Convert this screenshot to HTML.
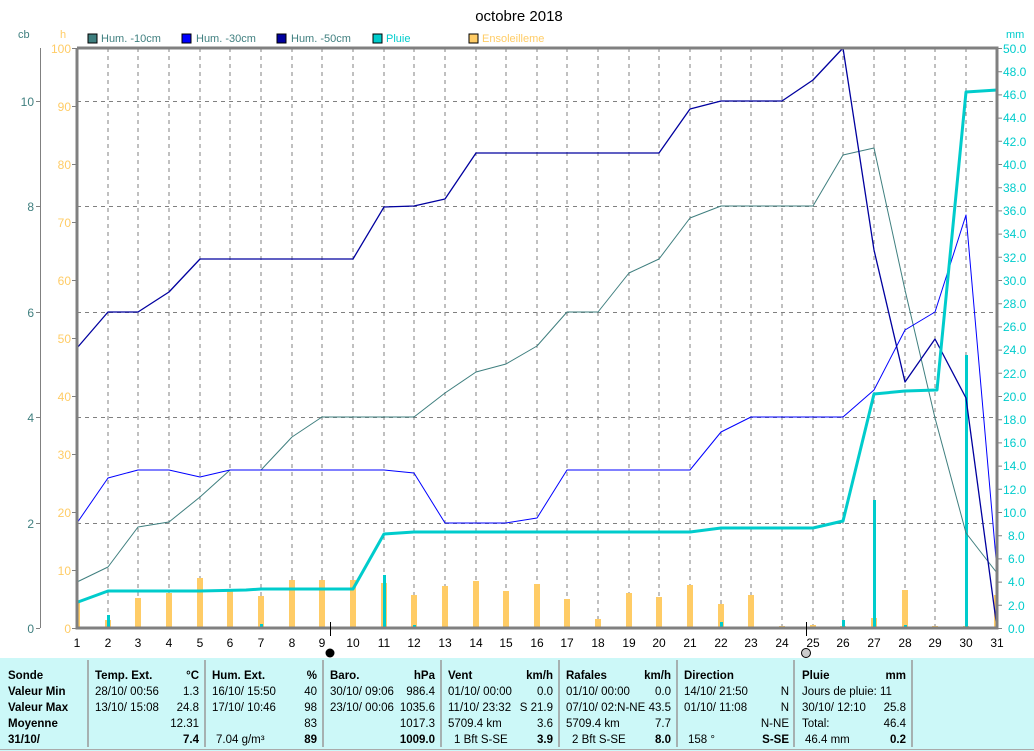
<!DOCTYPE html>
<html><head><meta charset="utf-8"><style>
html,body{margin:0;padding:0;background:#fff;}
svg{display:block;font-family:"Liberation Sans",sans-serif;}
</style></head><body>
<svg width="1034" height="751" viewBox="0 0 1034 751" xmlns="http://www.w3.org/2000/svg">
<rect width="1034" height="751" fill="#fff"/>
<text x="519" y="21" font-size="15" text-anchor="middle" fill="#000">octobre 2018</text>
<text x="18" y="38" font-size="11" fill="#3f7f7f">cb</text>
<text x="60" y="38" font-size="11" fill="#ffcc66">h</text>
<text x="1006" y="38" font-size="11" fill="#00cccc">mm</text>
<g font-size="11">
<rect x="88" y="34" width="9" height="9" fill="#3f7f7f" stroke="#000"/><text x="101" y="42" fill="#3f7f7f">Hum. -10cm</text>
<rect x="182" y="34" width="9" height="9" fill="#0000ff" stroke="#000"/><text x="196" y="42" fill="#3f7f7f">Hum. -30cm</text>
<rect x="277" y="34" width="9" height="9" fill="#00009f" stroke="#000"/><text x="291" y="42" fill="#3f7f7f">Hum. -50cm</text>
<rect x="373" y="34" width="9" height="9" fill="#00cccc" stroke="#000"/><text x="386" y="42" fill="#00cccc">Pluie</text>
<rect x="469" y="34" width="9" height="9" fill="#ffcc66" stroke="#000"/><text x="482" y="42" fill="#ffcc66">Ensoleilleme</text>
</g>
<g stroke="#808080" stroke-width="1" stroke-dasharray="4,4">
<path d="M77 101.5H997M77 206.5H997M77 312.5H997M77 417.5H997M77 523.5H997"/>
<path d="M108 48V628M138 48V628M169 48V628M200 48V628M230 48V628M261 48V628M292 48V628M322 48V628M353 48V628M384 48V628M414 48V628M445 48V628M476 48V628M506 48V628M537 48V628M567 48V628M598 48V628M629 48V628M659 48V628M690 48V628M721 48V628M751 48V628M782 48V628M813 48V628M843 48V628M874 48V628M905 48V628M935 48V628M966 48V628"/>
</g>
<g fill="#ffcc66">
<rect x="77" y="603" width="3" height="25"/>
<rect x="105" y="620" width="6" height="8"/>
<rect x="135" y="598" width="6" height="30"/>
<rect x="166" y="593" width="6" height="35"/>
<rect x="197" y="578" width="6" height="50"/>
<rect x="227" y="589" width="6" height="39"/>
<rect x="258" y="596" width="6" height="32"/>
<rect x="289" y="580" width="6" height="48"/>
<rect x="319" y="580" width="6" height="48"/>
<rect x="350" y="580" width="6" height="48"/>
<rect x="381" y="583" width="6" height="45"/>
<rect x="411" y="595" width="6" height="33"/>
<rect x="442" y="586" width="6" height="42"/>
<rect x="473" y="581" width="6" height="47"/>
<rect x="503" y="591" width="6" height="37"/>
<rect x="534" y="584" width="6" height="44"/>
<rect x="564" y="599" width="6" height="29"/>
<rect x="595" y="619" width="6" height="9"/>
<rect x="626" y="593" width="6" height="35"/>
<rect x="656" y="597" width="6" height="31"/>
<rect x="687" y="585" width="6" height="43"/>
<rect x="718" y="604" width="6" height="24"/>
<rect x="748" y="595" width="6" height="33"/>
<rect x="779" y="626" width="6" height="2"/>
<rect x="810" y="625" width="6" height="3"/>
<rect x="840" y="626" width="6" height="2"/>
<rect x="871" y="618" width="6" height="10"/>
<rect x="902" y="590" width="6" height="38"/>
<rect x="932" y="626" width="6" height="2"/>
<rect x="963" y="626" width="6" height="2"/>
<rect x="994" y="595" width="4" height="33"/>
</g>
<g fill="#00cccc">
<rect x="107" y="615" width="3" height="13"/>
<rect x="260" y="624" width="3" height="4"/>
<rect x="383" y="575" width="3" height="53"/>
<rect x="413" y="625" width="3" height="3"/>
<rect x="720" y="622" width="3" height="6"/>
<rect x="842" y="620" width="3" height="8"/>
<rect x="873" y="500" width="3" height="128"/>
<rect x="904" y="625" width="3" height="3"/>
<rect x="965" y="355" width="3" height="273"/>
</g>
<g fill="none" stroke-linejoin="round">
<polyline stroke="#3f7f7f" stroke-width="1" points="77,582 108,567 138,527 169,522 200,497 230,470 261,470 292,437 322,417 353,417 384,417 414,417 445,393 476,372 506,364 537,346 567,312 598,312 629,273 659,259 690,218 721,206 751,206 782,206 813,206 843,155 874,148 905,290 935,418 966,533 997,573"/>
<polyline stroke="#0000ff" stroke-width="1" points="77,523 108,478 138,470 169,470 200,477 230,470 261,470 292,470 322,470 353,470 384,470 414,473 445,523 476,523 506,523 537,518 567,470 598,470 629,470 659,470 690,470 721,432 751,417 782,417 813,417 843,417 874,390 905,330 935,312 966,215 997,570"/>
<polyline stroke="#00009f" stroke-width="1.3" points="77,348 108,312 138,312 169,292 200,259 230,259 261,259 292,259 322,259 353,259 384,207 414,206 445,199 476,153 506,153 537,153 567,153 598,153 629,153 659,153 690,109 721,101 751,101 782,101 813,80 843,48 874,250 905,382 935,339 966,398 997,628"/>
<polyline stroke="#00cccc" stroke-width="3" points="78,602 108,591 200,591 246,590 261,589 353,589 384,534 414,532 690,532 721,528 813,528 843,521 874,394 905,391 937,390 966,92 997,90"/>
</g>
<g stroke="#808080" stroke-width="3" fill="none">
<path d="M77 48V628H997V48H77"/>
</g>
<g stroke="#808080" stroke-width="1" fill="none">
<path d="M40.5 48V628"/>
<path d="M36 101.5H40M36 206.5H40M36 312.5H40M36 417.5H40M36 523.5H40M36 628.5H40"/>
<path d="M72 48.5H77M72 106.5H77M72 164.5H77M72 222.5H77M72 280.5H77M72 338.5H77M72 396.5H77M72 454.5H77M72 512.5H77M72 570.5H77M72 628.5H77"/>
<path d="M997 48.5H1002M997 71.7H1002M997 94.9H1002M997 118.1H1002M997 141.3H1002M997 164.5H1002M997 187.7H1002M997 210.9H1002M997 234.1H1002M997 257.3H1002M997 280.5H1002M997 303.7H1002M997 326.9H1002M997 350.1H1002M997 373.3H1002M997 396.5H1002M997 419.7H1002M997 442.9H1002M997 466.1H1002M997 489.3H1002M997 512.5H1002M997 535.7H1002M997 558.9H1002M997 582.1H1002M997 605.3H1002M997 628.5H1002"/>
</g>
<g font-size="12" fill="#3f7f7f" text-anchor="end">
<text x="34" y="106">10</text><text x="34" y="211">8</text><text x="34" y="317">6</text><text x="34" y="422">4</text><text x="34" y="528">2</text><text x="34" y="633">0</text>
</g>
<g font-size="12" fill="#ffcc66" text-anchor="end">
<text x="71" y="53">100</text><text x="71" y="111">90</text><text x="71" y="169">80</text><text x="71" y="227">70</text><text x="71" y="285">60</text><text x="71" y="343">50</text><text x="71" y="401">40</text><text x="71" y="459">30</text><text x="71" y="517">20</text><text x="71" y="575">10</text><text x="71" y="633">0</text>
</g>
<g font-size="12" fill="#00cccc">
<text x="1003" y="53">50.0</text><text x="1003" y="76">48.0</text><text x="1003" y="99">46.0</text><text x="1003" y="122">44.0</text><text x="1003" y="146">42.0</text><text x="1003" y="169">40.0</text><text x="1003" y="192">38.0</text><text x="1003" y="215">36.0</text><text x="1003" y="238">34.0</text><text x="1003" y="262">32.0</text><text x="1003" y="285">30.0</text><text x="1003" y="308">28.0</text><text x="1003" y="331">26.0</text><text x="1003" y="354">24.0</text><text x="1003" y="378">22.0</text><text x="1003" y="401">20.0</text><text x="1003" y="424">18.0</text><text x="1003" y="447">16.0</text><text x="1003" y="470">14.0</text><text x="1003" y="494">12.0</text><text x="1003" y="517">10.0</text><text x="1008" y="540">8.0</text><text x="1008" y="563">6.0</text><text x="1008" y="586">4.0</text><text x="1008" y="610">2.0</text><text x="1008" y="633">0.0</text>
</g>
<g font-size="12" fill="#000" text-anchor="middle">
<text x="77" y="647">1</text><text x="108" y="647">2</text><text x="138" y="647">3</text><text x="169" y="647">4</text><text x="200" y="647">5</text><text x="230" y="647">6</text><text x="261" y="647">7</text><text x="292" y="647">8</text><text x="322" y="647">9</text><text x="353" y="647">10</text><text x="384" y="647">11</text><text x="414" y="647">12</text><text x="445" y="647">13</text><text x="476" y="647">14</text><text x="506" y="647">15</text><text x="537" y="647">16</text><text x="567" y="647">17</text><text x="598" y="647">18</text><text x="629" y="647">19</text><text x="659" y="647">20</text><text x="690" y="647">21</text><text x="721" y="647">22</text><text x="751" y="647">23</text><text x="782" y="647">24</text><text x="813" y="647">25</text><text x="843" y="647">26</text><text x="874" y="647">27</text><text x="905" y="647">28</text><text x="935" y="647">29</text><text x="966" y="647">30</text><text x="997" y="647">31</text>
</g>
<path d="M330.5 622V636M806.5 622V636" stroke="#000" stroke-width="1"/>
<circle cx="330" cy="653" r="4.5" fill="#000"/>
<circle cx="806" cy="653" r="4.5" fill="#ccc" stroke="#000"/>
<rect x="0" y="658" width="1034" height="93" fill="#ccf8f8"/>
<path d="M0 749.5H1034" stroke="#aaa"/>
<g stroke="#999" stroke-width="1.5">
<path d="M88 660V747M205 660V747M323 660V747M441 660V747M559 660V747M677 660V747M794 660V747M912 660V747"/>
</g>
<g font-size="11.5" fill="#000" xml:space="preserve" style="white-space:pre">
<g font-weight="bold">
<text x="8" y="679">Sonde</text><text x="8" y="695">Valeur Min</text><text x="8" y="711">Valeur Max</text><text x="8" y="727">Moyenne</text><text x="8" y="743">31/10/</text>
<text x="95" y="679">Temp. Ext.</text><text x="199" y="679" text-anchor="end">°C</text>
<text x="212" y="679">Hum. Ext.</text><text x="317" y="679" text-anchor="end">%</text>
<text x="330" y="679">Baro.</text><text x="435" y="679" text-anchor="end">hPa</text>
<text x="448" y="679">Vent</text><text x="553" y="679" text-anchor="end">km/h</text>
<text x="566" y="679">Rafales</text><text x="671" y="679" text-anchor="end">km/h</text>
<text x="684" y="679">Direction</text>
<text x="802" y="679">Pluie</text><text x="906" y="679" text-anchor="end">mm</text>
<text x="199" y="743" text-anchor="end">7.4</text><text x="317" y="743" text-anchor="end">89</text><text x="435" y="743" text-anchor="end">1009.0</text><text x="553" y="743" text-anchor="end">3.9</text><text x="671" y="743" text-anchor="end">8.0</text><text x="789" y="743" text-anchor="end">S-SE</text><text x="906" y="743" text-anchor="end">0.2</text>
</g>
<text x="95" y="695">28/10/  00:56</text><text x="199" y="695" text-anchor="end">1.3</text>
<text x="95" y="711">13/10/  15:08</text><text x="199" y="711" text-anchor="end">24.8</text>
<text x="199" y="727" text-anchor="end">12.31</text>
<text x="212" y="695">16/10/  15:50</text><text x="317" y="695" text-anchor="end">40</text>
<text x="212" y="711">17/10/  10:46</text><text x="317" y="711" text-anchor="end">98</text>
<text x="317" y="727" text-anchor="end">83</text>
<text x="216" y="743">7.04 g/m³</text>
<text x="330" y="695">30/10/  09:06</text><text x="435" y="695" text-anchor="end">986.4</text>
<text x="330" y="711">23/10/  00:06</text><text x="435" y="711" text-anchor="end">1035.6</text>
<text x="435" y="727" text-anchor="end">1017.3</text>
<text x="448" y="695">01/10/  00:00</text><text x="553" y="695" text-anchor="end">0.0</text>
<text x="448" y="711">11/10/  23:32</text><text x="553" y="711" text-anchor="end">S 21.9</text>
<text x="448" y="727">5709.4 km</text><text x="553" y="727" text-anchor="end">3.6</text>
<text x="454" y="743">1 Bft S-SE</text>
<text x="566" y="695">01/10/  00:00</text><text x="671" y="695" text-anchor="end">0.0</text>
<text x="566" y="711">07/10/  02:N-NE</text><text x="671" y="711" text-anchor="end">43.5</text>
<text x="566" y="727">5709.4 km</text><text x="671" y="727" text-anchor="end">7.7</text>
<text x="572" y="743">2 Bft S-SE</text>
<text x="684" y="695">14/10/  21:50</text><text x="789" y="695" text-anchor="end">N</text>
<text x="684" y="711">01/10/  11:08</text><text x="789" y="711" text-anchor="end">N</text>
<text x="789" y="727" text-anchor="end">N-NE</text>
<text x="688" y="743">158 °</text>
<text x="802" y="695">Jours de pluie: 11</text>
<text x="802" y="711">30/10/  12:10</text><text x="906" y="711" text-anchor="end">25.8</text>
<text x="802" y="727">Total:</text><text x="906" y="727" text-anchor="end">46.4</text>
<text x="805" y="743">46.4 mm</text>
</g>
</svg>
</body></html>
